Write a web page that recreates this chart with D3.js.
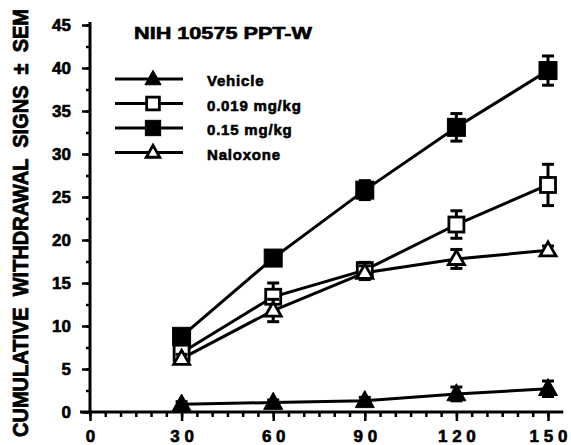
<!DOCTYPE html>
<html>
<head>
<meta charset="utf-8">
<script src="https://cdn.jsdelivr.net/npm/d3@7"></script>
<style>
  body { margin: 0; background: #fff; }
  svg { display: block; }
  text { font-family: "Liberation Sans", Arial, sans-serif; font-weight: bold; fill: #000; stroke: #000; stroke-width: 0.6px; }
</style>
</head>
<body>
<div id="chart"></div>
<script>
(function () {
    const times = [30, 60, 90, 120, 150];

    const vehicle = [0.9, 1.1, 1.3, 2.1, 2.7];
    const vehicleErr = [0.3, 0.3, 0.4, 0.8, 0.9];

    const lowDose = [6.9, 13.4, 16.5, 21.8, 26.4];
    const lowDoseErr = [0.7, 1.6, 0.9, 1.6, 2.4];

    const highDose = [8.8, 17.9, 25.8, 33.1, 39.7];
    const highDoseErr = [0.6, 0.5, 1.1, 1.6, 1.7];

    const naloxone = [6.2, 11.8, 16.2, 17.8, 18.8];
    const naloxoneErr = [0.5, 1.3, 0.8, 1.1, 0.5];

    const seriesNames = ["Vehicle", "0.019 mg/kg", "0.15 mg/kg", "Naloxone"];
    const seriesShapes = ["triangle-filled", "square-open", "square-filled", "triangle-open"];
    const seriesValues = [vehicle, lowDose, highDose, naloxone];
    const seriesErrors = [vehicleErr, lowDoseErr, highDoseErr, naloxoneErr];

    const xTicks = [0, 30, 60, 90, 120, 150];
    const yTicks = [0, 5, 10, 15, 20, 25, 30, 35, 40, 45];
    const title = "NIH 10575 PPT-W";
    const yTitle = "CUMULATIVE  WITHDRAWAL  SIGNS  \u00B1  SEM";

    const width = 571, height = 445;

    const svg = d3.select("#chart").append("svg")
        .attr("width", width)
        .attr("height", height);

    const x = d3.scaleLinear().domain([0, 150]).range([90, 548]);
    const y = d3.scaleLinear().domain([0, 45]).range([412, 25]);

    const axisStyle = g => {
        g.select(".domain").remove();
        g.selectAll("line").attr("stroke", "#000").attr("stroke-width", 2.5);
    };
    const labelStyle = g => g.selectAll("text")
        .style("font-size", "17px")
        .style("font-family", "'Liberation Sans', Arial, sans-serif")
        .style("font-weight", "bold")
        .attr("fill", "#000")
        .attr("stroke", "#000")
        .attr("stroke-width", 0.7);

    // axis lines
    svg.append("line")
        .attr("x1", 80).attr("x2", x(155))
        .attr("y1", y(0)).attr("y2", y(0))
        .attr("stroke", "#000").attr("stroke-width", 3);
    svg.append("line")
        .attr("x1", x(0)).attr("x2", x(0))
        .attr("y1", y(0)).attr("y2", y(45) - 3)
        .attr("stroke", "#000").attr("stroke-width", 3);

    svg.append("g")
        .attr("transform", `translate(0,${y(0)})`)
        .call(d3.axisBottom(x).tickValues(d3.range(0, 155, 5)).tickSize(5).tickFormat(""))
        .call(axisStyle);

    svg.append("g")
        .attr("transform", `translate(0,${y(0)})`)
        .call(d3.axisBottom(x).tickValues(xTicks).tickSize(9).tickPadding(9)
            .tickFormat(d => String(d).split("").join(" ")))
        .call(axisStyle)
        .call(labelStyle)
        .call(g => g.selectAll("text").attr("xml:space", "preserve"));

    svg.append("g")
        .attr("transform", `translate(${x(0)},0)`)
        .call(d3.axisLeft(y).tickValues(d3.range(0, 45.1, 2.5)).tickSize(4).tickFormat(""))
        .call(axisStyle);

    svg.append("g")
        .attr("transform", `translate(${x(0)},0)`)
        .call(d3.axisLeft(y).tickValues(yTicks).tickSize(8).tickPadding(11))
        .call(axisStyle)
        .call(labelStyle);

    // y title (glyphs stretched vertically like the scanned original)
    svg.append("text")
        .attr("transform", "translate(28,223) rotate(-90) scale(1,1.25)")
        .attr("text-anchor", "middle")
        .attr("textLength", 428)
        .attr("lengthAdjust", "spacingAndGlyphs")
        .attr("xml:space", "preserve")
        .style("font-size", "17px")
        .text(yTitle);

    // title
    svg.append("text")
        .attr("x", 134).attr("y", 39)
        .attr("textLength", 178)
        .attr("lengthAdjust", "spacingAndGlyphs")
        .style("font-size", "17px")
        .text(title);

    function drawMarker(g, shape, cx, cy, scale) {
        const k = scale || 1;
        const filled = shape.endsWith("filled");
        if (shape.startsWith("square")) {
            const s = (filled ? 18 : 15) * k;
            g.append("rect")
                .attr("x", cx - s / 2).attr("y", cy - s / 2)
                .attr("width", s).attr("height", s)
                .attr("fill", filled ? "#000" : "#fff")
                .attr("stroke", "#000")
                .attr("stroke-width", filled ? 1 : 2.8);
        } else {
            const w = (filled ? 19 : 16) * k, h = (filled ? 17 : 14) * k;
            const pts = [[cx, cy - h * 0.6], [cx + w / 2, cy + h * 0.4], [cx - w / 2, cy + h * 0.4]];
            g.append("path")
                .attr("d", d3.line()(pts) + "Z")
                .attr("fill", filled ? "#000" : "#fff")
                .attr("stroke", "#000")
                .attr("stroke-width", filled ? 1 : 2.8);
        }
    }

    const line = d3.line().x((d, i) => x(times[i])).y(d => y(d));
    const plot = svg.append("g");

    seriesValues.forEach(vals => {
        plot.append("path")
            .datum(vals)
            .attr("d", line)
            .attr("fill", "none")
            .attr("stroke", "#000")
            .attr("stroke-width", 3);
    });

    seriesValues.forEach((vals, si) => {
        const errs = seriesErrors[si];
        const g = plot.append("g");
        vals.forEach((v, i) => {
            const cx = x(times[i]);
            g.append("line")
                .attr("x1", cx).attr("x2", cx)
                .attr("y1", y(v - errs[i])).attr("y2", y(v + errs[i]))
                .attr("stroke", "#000").attr("stroke-width", 3);
            [v - errs[i], v + errs[i]].forEach(e => {
                g.append("line")
                    .attr("x1", cx - 6).attr("x2", cx + 6)
                    .attr("y1", y(e)).attr("y2", y(e))
                    .attr("stroke", "#000").attr("stroke-width", 3);
            });
        });
        vals.forEach((v, i) => drawMarker(g, seriesShapes[si], x(times[i]), y(v)));
    });

    // legend
    const legend = svg.append("g");
    seriesNames.forEach((name, i) => {
        const ly = 79 + i * 24.5;
        legend.append("line")
            .attr("x1", 115).attr("x2", 183)
            .attr("y1", ly).attr("y2", ly)
            .attr("stroke", "#000").attr("stroke-width", 3);
        drawMarker(legend, seriesShapes[i], 153, ly, 0.85);
        legend.append("text")
            .attr("x", 207).attr("y", ly + 7)
            .style("font-size", "15px")
            .style("letter-spacing", "0.8px")
            .text(name);
    });
})();
</script>
</body>
</html>
